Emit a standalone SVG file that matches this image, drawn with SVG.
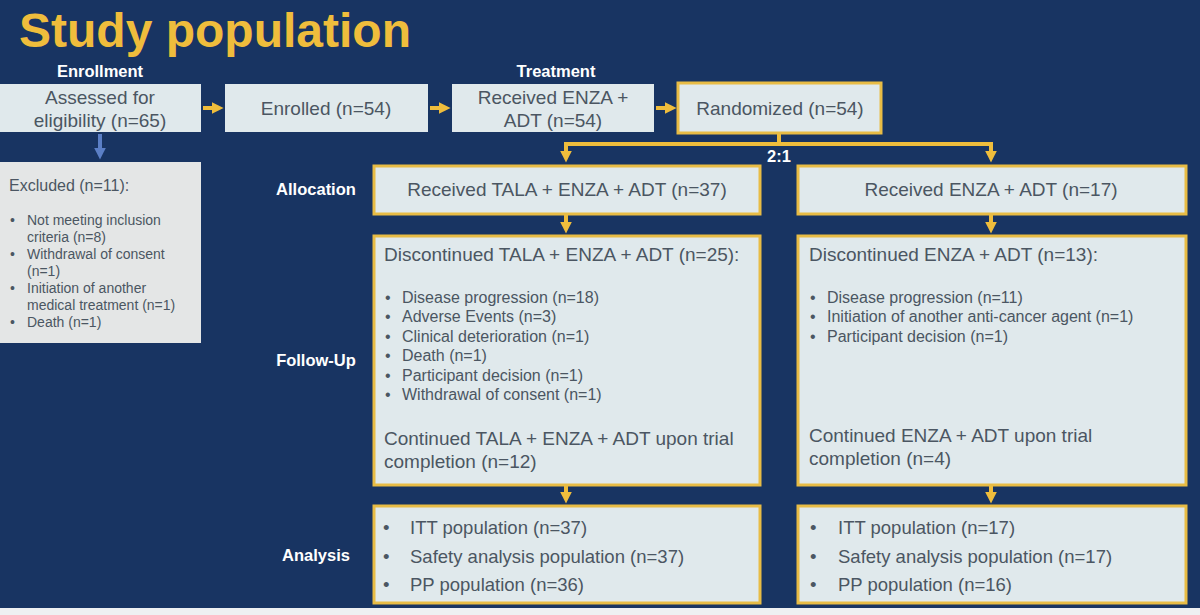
<svg xmlns="http://www.w3.org/2000/svg" width="1200" height="615" viewBox="0 0 1200 615">
<style>
.bg{fill:#183462}
.box{fill:#e0e9ec}
.ybox{fill:#e0e9ec;stroke:#e8bc45;stroke-width:3}
.t{font-family:"Liberation Sans",Arial,sans-serif;fill:#4b5662}
.lbl{font-family:"Liberation Sans",Arial,sans-serif;font-weight:bold;fill:#ffffff;font-size:16.5px;text-anchor:middle}
.c{stroke:#efbd3c;stroke-width:4;fill:none}
</style>
<defs>
<marker id="ah" viewBox="0 0 10 10" refX="2" refY="5" markerWidth="3" markerHeight="3" orient="auto" markerUnits="strokeWidth">
<path d="M0,0 L10,5 L0,10 z" fill="#efbd3c"/>
</marker>
<marker id="ahb" viewBox="0 0 10 10" refX="2" refY="5" markerWidth="3" markerHeight="3" orient="auto" markerUnits="strokeWidth">
<path d="M0,0 L10,5 L0,10 z" fill="#5b7fc6"/>
</marker>
</defs>
<rect class="bg" x="0" y="0" width="1200" height="615"/>
<rect x="0" y="608" width="1200" height="7" fill="#eef0f2"/>
<text x="19" y="47" font-family="Liberation Sans,Arial,sans-serif" font-weight="bold" font-size="48" fill="#efbd3c">Study population</text>
<text class="lbl" x="100" y="77">Enrollment</text>
<text class="lbl" x="556" y="77">Treatment</text>
<text class="lbl" x="316" y="195">Allocation</text>
<text class="lbl" x="316" y="366">Follow-Up</text>
<text class="lbl" x="316" y="561">Analysis</text>
<text class="lbl" x="779" y="162" font-size="14">2:1</text>

<g id="connectors">
<line class="c" x1="203" y1="108" x2="214" y2="108" marker-end="url(#ah)"/>
<line class="c" x1="430" y1="108" x2="441" y2="108" marker-end="url(#ah)"/>
<line class="c" x1="656" y1="108" x2="667" y2="108" marker-end="url(#ah)"/>
<line x1="100" y1="134" x2="100" y2="150" stroke="#5b7fc6" stroke-width="4" marker-end="url(#ahb)"/>
<polyline class="c" points="779,134 779,144"/>
<polyline class="c" points="566,155 566,144 991,144 991,155"/>
<line class="c" x1="566" y1="150" x2="566" y2="153" marker-end="url(#ah)"/>
<line class="c" x1="991" y1="150" x2="991" y2="153" marker-end="url(#ah)"/>
<line class="c" x1="566" y1="215" x2="566" y2="224" marker-end="url(#ah)"/>
<line class="c" x1="991" y1="215" x2="991" y2="224" marker-end="url(#ah)"/>
<line class="c" x1="566" y1="486" x2="566" y2="494" marker-end="url(#ah)"/>
<line class="c" x1="991" y1="486" x2="991" y2="494" marker-end="url(#ah)"/>
</g>

<g id="assessed">
<rect class="box" x="0" y="84" width="201" height="48"/>
<text class="t" font-size="19" text-anchor="middle" x="100" y="104">Assessed for</text>
<text class="t" font-size="19" text-anchor="middle" x="100" y="127">eligibility (n=65)</text>
</g>
<g id="enrolled">
<rect class="box" x="225" y="84" width="203" height="48"/>
<text class="t" font-size="19" text-anchor="middle" x="326" y="115">Enrolled (n=54)</text>
</g>
<g id="received">
<rect class="box" x="452" y="84" width="202" height="48"/>
<text class="t" font-size="19" text-anchor="middle" x="553" y="104">Received ENZA +</text>
<text class="t" font-size="19" text-anchor="middle" x="553" y="127">ADT (n=54)</text>
</g>
<g id="randomized">
<rect class="ybox" x="678" y="83" width="203" height="50"/>
<text class="t" font-size="19" text-anchor="middle" x="780" y="115">Randomized (n=54)</text>
</g>
<g id="excluded">
<rect x="0" y="162" width="201" height="181" fill="#e4e6e6"/>
<text class="t" font-size="16" x="9" y="191">Excluded (n=11):</text>
<g class="t" font-size="14">
<text x="10" y="225">•</text><text x="27" y="225">Not meeting inclusion</text>
<text x="27" y="242">criteria (n=8)</text>
<text x="10" y="259">•</text><text x="27" y="259">Withdrawal of consent</text>
<text x="27" y="276">(n=1)</text>
<text x="10" y="293">•</text><text x="27" y="293">Initiation of another</text>
<text x="27" y="310">medical treatment (n=1)</text>
<text x="10" y="327">•</text><text x="27" y="327">Death (n=1)</text>
</g>
</g>
<g id="alloc-tala">
<rect class="ybox" x="374" y="166" width="386" height="48"/>
<text class="t" font-size="19" text-anchor="middle" x="567" y="196">Received TALA + ENZA + ADT (n=37)</text>
</g>
<g id="alloc-enza">
<rect class="ybox" x="798" y="166" width="388" height="48"/>
<text class="t" font-size="19" text-anchor="middle" x="991" y="196">Received ENZA + ADT (n=17)</text>
</g>
<g id="followup-tala">
<rect class="ybox" x="374" y="236" width="386" height="249"/>
<text class="t" font-size="19" x="384" y="261">Discontinued TALA + ENZA + ADT (n=25):</text>
<g class="t" font-size="16">
<text x="385" y="303">•</text><text x="402" y="303">Disease progression (n=18)</text>
<text x="385" y="322">•</text><text x="402" y="322">Adverse Events (n=3)</text>
<text x="385" y="342">•</text><text x="402" y="342">Clinical deterioration (n=1)</text>
<text x="385" y="361">•</text><text x="402" y="361">Death (n=1)</text>
<text x="385" y="381">•</text><text x="402" y="381">Participant decision (n=1)</text>
<text x="385" y="400">•</text><text x="402" y="400">Withdrawal of consent (n=1)</text>
</g>
<text class="t" font-size="19" x="384" y="445">Continued TALA + ENZA + ADT upon trial</text>
<text class="t" font-size="19" x="384" y="468">completion (n=12)</text>
</g>
<g id="followup-enza">
<rect class="ybox" x="798" y="236" width="388" height="249"/>
<text class="t" font-size="19" x="809" y="261">Discontinued ENZA + ADT (n=13):</text>
<g class="t" font-size="16">
<text x="810" y="303">•</text><text x="827" y="303">Disease progression (n=11)</text>
<text x="810" y="322">•</text><text x="827" y="322">Initiation of another anti-cancer agent (n=1)</text>
<text x="810" y="342">•</text><text x="827" y="342">Participant decision (n=1)</text>
</g>
<text class="t" font-size="19" x="809" y="442">Continued ENZA + ADT upon trial</text>
<text class="t" font-size="19" x="809" y="465">completion (n=4)</text>
</g>
<g id="analysis-tala">
<rect class="ybox" x="374" y="506" width="386" height="97"/>
<g class="t" font-size="18.5">
<text x="383" y="534">•</text><text x="410" y="534">ITT population (n=37)</text>
<text x="383" y="563">•</text><text x="410" y="563">Safety analysis population (n=37)</text>
<text x="383" y="591">•</text><text x="410" y="591">PP population (n=36)</text>
</g>
</g>
<g id="analysis-enza">
<rect class="ybox" x="798" y="506" width="388" height="97"/>
<g class="t" font-size="18.5">
<text x="810" y="534">•</text><text x="838" y="534">ITT population (n=17)</text>
<text x="810" y="563">•</text><text x="838" y="563">Safety analysis population (n=17)</text>
<text x="810" y="591">•</text><text x="838" y="591">PP population (n=16)</text>
</g>
</g>
</svg>
